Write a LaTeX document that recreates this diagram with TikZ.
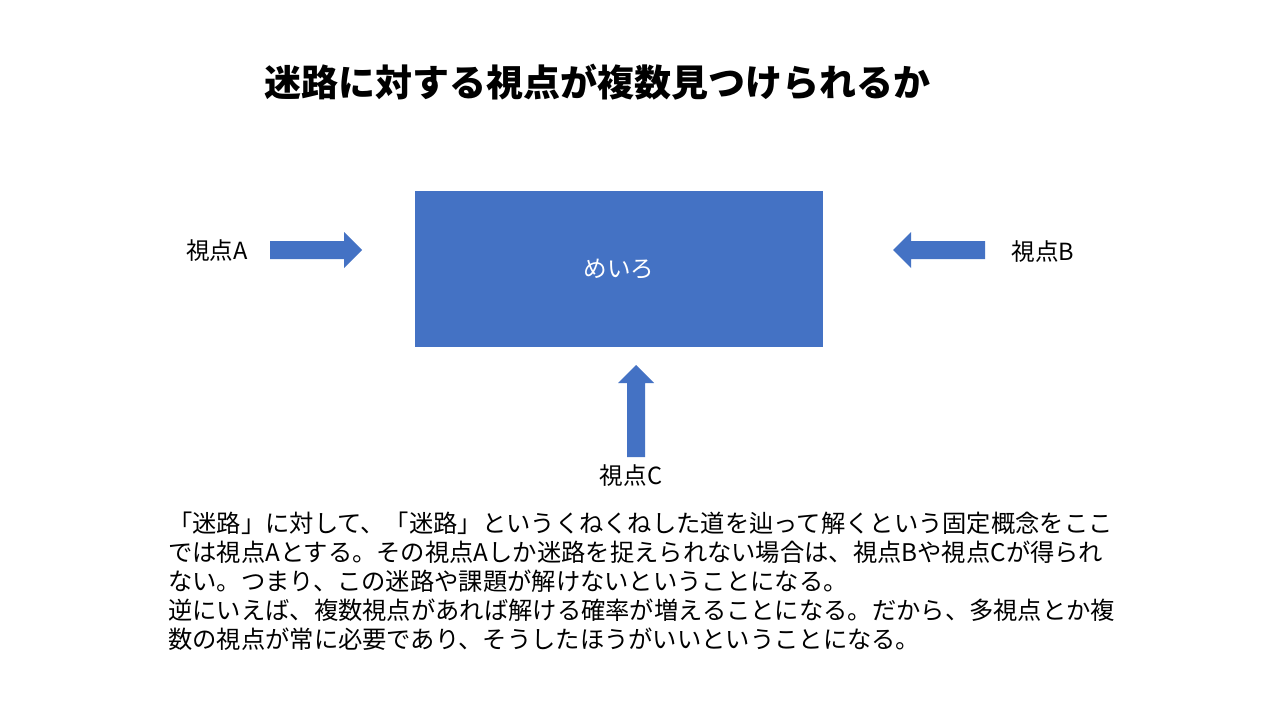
\documentclass[tikz,border=0pt]{standalone}
\usepackage{fontspec}
\setmainfont{Noto Sans CJK JP}
\definecolor{blu}{HTML}{4472C4}
\begin{document}
\begin{tikzpicture}[x=1pt,y=-1pt,
  lbl/.style={inner sep=0pt,font=\fontsize{23.6}{28}\selectfont},
  para/.style={anchor=west,inner sep=0pt,font=\fontsize{24.3}{29}\selectfont}]
\useasboundingbox[fill=white] (0,0) rectangle (1280,720);
\node[inner sep=0pt,font=\fontsize{37}{44}\selectfont\bfseries] (title) at (597,82) {迷路に対する視点が複数見つけられるか};
\node[fill=blu,minimum width=408pt,minimum height=156pt,inner sep=0pt,text=white,font=\fontsize{23.6}{28}\selectfont] (maze) at (619,269) {めいろ};
\fill[blu] (270,241)--(344,241)--(344,232)--(362,250)--(344,268)--(344,259)--(270,259)--cycle;
\fill[blu] (985,241)--(911,241)--(911,232)--(893,250)--(911,268)--(911,259)--(985,259)--cycle;
\fill[blu] (627,457)--(627,383)--(618,383)--(636,365)--(654,383)--(645,383)--(645,457)--cycle;
\node[lbl] (a) at (217,251) {視点A};
\node[lbl] (b) at (1043,252) {視点B};
\node[lbl] (c) at (631,476) {視点C};
\node[para] (p1) at (168,523) {「迷路」に対して、「迷路」というくねくねした道を辿って解くという固定概念をここ};
\node[para] (p2) at (168,552) {では視点Aとする。その視点Aしか迷路を捉えられない場合は、視点Bや視点Cが得られ};
\node[para] (p3) at (168,581) {ない。つまり、この迷路や課題が解けないということになる。};
\node[para] (p4) at (168,610) {逆にいえば、複数視点があれば解ける確率が増えることになる。だから、多視点とか複};
\node[para] (p5) at (168,639) {数の視点が常に必要であり、そうしたほうがいいということになる。};
\end{tikzpicture}
\end{document}
